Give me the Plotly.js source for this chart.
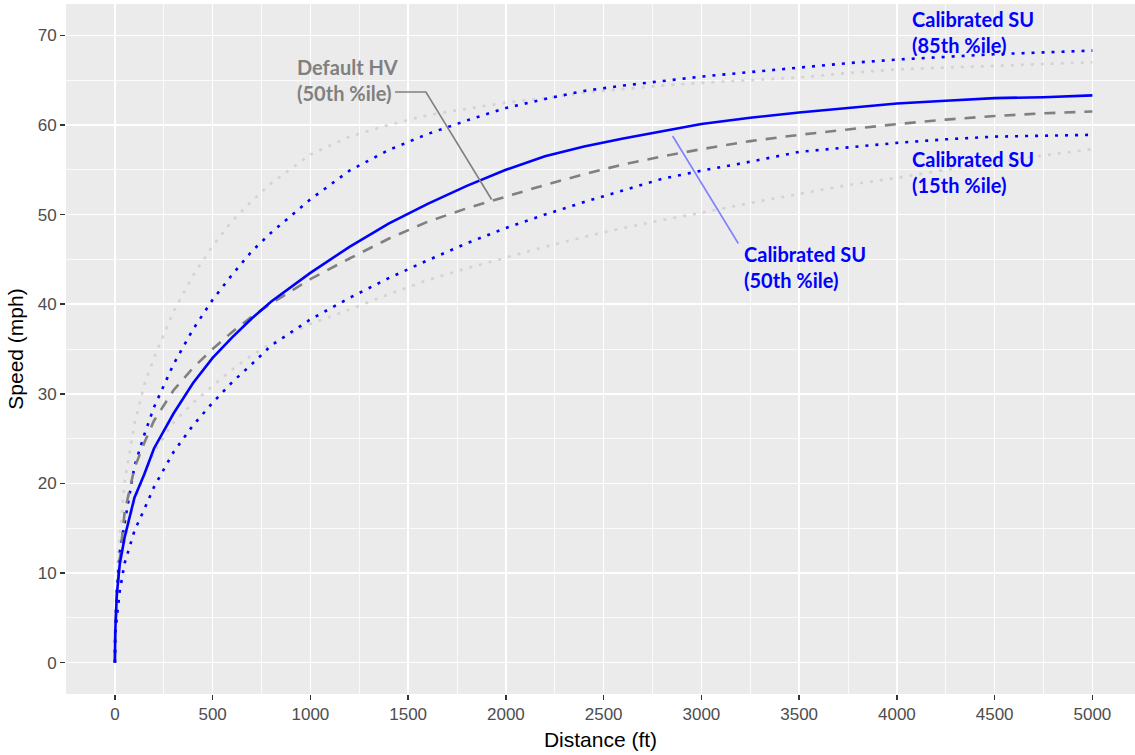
<!DOCTYPE html>
<html>
<head>
<meta charset="utf-8">
<script src="https://cdn.plot.ly/plotly-3.0.1.min.js"></script>
<style>
  html, body { margin: 0; padding: 0; overflow: hidden; background: #fff; }
  #chart { width: 1135px; height: 755px; }
</style>
</head>
<body>
<div id="chart"></div>
<script>
// Distance from start (ft)
const distanceFt = [0, 2, 10, 25, 50, 100, 150, 200, 300, 400, 500, 600, 700, 800,
  1000, 1200, 1400, 1600, 1800, 2000, 2200, 2400, 2600, 2800, 3000,
  3250, 3500, 3750, 4000, 4250, 4500, 4750, 5000];

// Speed profiles (mph)
const hv85 = [0, 4.5, 9, 14, 20.2, 26.6, 31.0, 34.0, 39.2, 43.2, 46.5, 49.3, 51.5, 53.5,
  56.7, 58.7, 60.0, 61.1, 61.8, 62.5, 63.0, 63.6, 64.0, 64.4, 64.7,
  65.0, 65.3, 65.8, 66.2, 66.4, 66.6, 66.8, 67.0];
const hv15 = [0, 3, 6, 10, 13.5, 18, 21, 23.5, 26.8, 29.0, 30.9, 32.7, 34.3, 35.6,
  37.8, 39.4, 41.1, 42.7, 44.0, 45.2, 46.4, 47.5, 48.5, 49.4, 50.2,
  51.3, 52.3, 53.3, 54.1, 55.0, 55.8, 56.6, 57.3];
const su85 = [0, 4, 8, 12.3, 15.6, 21.9, 25.4, 28.5, 33.3, 37.2, 40.5, 43.3, 45.9, 48.0,
  51.7, 54.9, 57.2, 59.0, 60.5, 61.9, 62.9, 63.8, 64.4, 64.9, 65.4,
  65.9, 66.4, 66.9, 67.3, 67.6, 67.9, 68.1, 68.3];
const su15 = [0, 3, 5, 8, 11.1, 14.7, 17.1, 19.6, 23.5, 26.5, 29.0, 31.3, 33.3, 35.4,
  38.3, 40.7, 42.9, 44.9, 46.8, 48.5, 50.0, 51.4, 52.7, 54.0, 54.9,
  55.9, 57.0, 57.5, 58.0, 58.4, 58.7, 58.8, 58.9];
const hv50 = [0, 3.5, 7.5, 11.5, 16.8, 21.7, 24.5, 27.0, 30.4, 32.9, 35.0, 36.9, 38.6, 40.1,
  42.8, 45.1, 47.3, 49.2, 50.7, 52.0, 53.3, 54.5, 55.6, 56.5, 57.3,
  58.2, 58.9, 59.5, 60.1, 60.6, 61.0, 61.3, 61.5];
const su50 = [0, 3.5, 7.6, 11.0, 14.0, 18.4, 21.0, 23.9, 27.8, 31.2, 34.0, 36.3, 38.4, 40.3,
  43.5, 46.4, 49.0, 51.2, 53.2, 55.0, 56.5, 57.6, 58.5, 59.3, 60.1,
  60.8, 61.4, 61.9, 62.4, 62.7, 63.0, 63.1, 63.3];

// Axis ticks
const xTicks = [0, 500, 1000, 1500, 2000, 2500, 3000, 3500, 4000, 4500, 5000];
const yTicks = [0, 10, 20, 30, 40, 50, 60, 70];

// Curve labels
const labelDefault = 'Default HV<br>(50th %ile)';
const labelSu85 = 'Calibrated SU<br>(85th %ile)';
const labelSu15 = 'Calibrated SU<br>(15th %ile)';
const labelSu50 = 'Calibrated SU<br>(50th %ile)';

const BLUE = '#0000FF';
const GRAY = '#808080';
const LIGHT = '#D3D3D3';

function line(y, color, dash, width) {
  return {
    type: 'scatter', mode: 'lines', x: distanceFt, y: y,
    line: { color: color, dash: dash, width: width, shape: 'linear' },
    hoverinfo: 'skip'
  };
}

const traces = [
  line(hv85, LIGHT, '3px,7px', 2.6),
  line(hv15, LIGHT, '3px,7px', 2.6),
  line(su85, BLUE, '3px,7px', 2.6),
  line(su15, BLUE, '3px,7px', 2.6),
  line(hv50, GRAY, '11px,9px', 2.6),
  line(su50, BLUE, 'solid', 2.6)
];

const labelFont = (c) => ({ family: 'Lato, "Open Sans", sans-serif', size: 20, weight: 'bold', color: c });

function label(text, x, y, color) {
  return {
    text: text, x: x, y: y, xref: 'x', yref: 'y',
    xanchor: 'left', yanchor: 'middle', align: 'left',
    showarrow: false, font: labelFont(color)
  };
}

const axisCommon = {
  showline: false,
  zeroline: false,
  showgrid: true,
  gridcolor: '#FFFFFF',
  gridwidth: 1.6,
  ticks: 'outside',
  ticklen: 5,
  tickwidth: 1.4,
  tickcolor: '#333333',
  tickfont: { family: '"Liberation Sans", Arial, sans-serif', size: 17, color: '#4D4D4D' },
  automargin: false,
  fixedrange: true
};

const layout = {
  width: 1135,
  height: 755,
  margin: { l: 66, r: 0, t: 4, b: 61 },
  paper_bgcolor: '#FFFFFF',
  plot_bgcolor: '#EBEBEB',
  showlegend: false,
  xaxis: Object.assign({}, axisCommon, {
    range: [-250, 5218],
    tickmode: 'array', tickvals: xTicks, ticktext: xTicks.map(String),
    minor: { dtick: 250, tick0: 0, showgrid: true, gridcolor: '#FFFFFF', gridwidth: 0.8, ticks: '' },
    title: { text: 'Distance (ft)', font: { family: '"Liberation Sans", Arial, sans-serif', size: 21, color: '#000000' }, standoff: 8 }
  }),
  yaxis: Object.assign({}, axisCommon, {
    range: [-3.5, 73.5],
    tickmode: 'array', tickvals: yTicks, ticktext: yTicks.map(String),
    minor: { dtick: 5, tick0: 0, showgrid: true, gridcolor: '#FFFFFF', gridwidth: 0.8, ticks: '' },
    title: { text: 'Speed (mph)', font: { family: '"Liberation Sans", Arial, sans-serif', size: 21, color: '#000000' }, standoff: 8 }
  }),
  annotations: [
    label(labelDefault, 921, 65.0, GRAY),
    label(labelSu85, 4067, 70.4, BLUE),
    label(labelSu15, 4067, 54.75, BLUE),
    label(labelSu50, 3206, 44.2, BLUE)
  ],
  shapes: [
    { type: 'path', xref: 'x', yref: 'y', path: 'M 1433,63.68 L 1591,63.68 L 1927,51.68',
      line: { color: GRAY, width: 1.6 } },
    { type: 'line', xref: 'x', yref: 'y', x0: 2853, y0: 58.77, x1: 3189, y1: 46.77,
      line: { color: '#8080FF', width: 1.6 } }
  ]
};

Plotly.newPlot('chart', traces, layout, { displayModeBar: false, staticPlot: true });
</script>
</body>
</html>
